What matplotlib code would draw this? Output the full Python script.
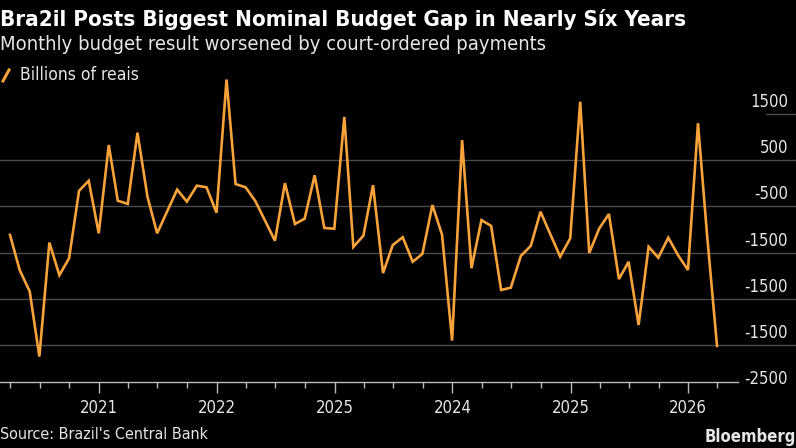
import numpy as np
import pandas as pd
import matplotlib
matplotlib.use('Agg')
import matplotlib.pyplot as plt
import matplotlib.dates as mdates
import matplotlib.transforms as mtransforms
from matplotlib.lines import Line2D
from matplotlib import font_manager

# monthly budget result, end of month, Mar 2020 .. Mar 2026
dates = pd.date_range('2020-03-31', periods=73, freq='ME')
values = [-1120, -1880, -2340, -3750, -1285, -1990, -1625, -165, 50, -1085,
          824, -380, -450, 1090, -295, -1085, -610, -140, -400, -55,
          -90, -640, 2240, -20, -90, -385, -820, -1245, 0, -884,
          -770, 170, -970, -985, 1430, -1380, -1137, -45, -1945, -1340,
          -1170, -1700, -1530, -473, -1120, -3405, 930, -1840, -800, -925,
          -2310, -2260, -1575, -1355, -618, -1115, -1590, -1195, 1760, -1510,
          -980, -667, -2075, -1700, -3067, -1375, -1612, -1180, -1555, -1878,
          1295, -1110, -3520]

y_ticks = [1500, 500, -500, -1500, -2500, -3500, -4500]
y_tick_labels = ['1500', '500', '-500', '-1500', '-1500', '-1500', '-2500']
year_ticks = pd.to_datetime(['2021-01-01', '2022-01-01', '2023-01-01',
                             '2024-01-01', '2025-01-01', '2026-01-01'])
year_labels = ['2021', '2022', '2025', '2024', '2025', '2026']

W, H = 796, 448
names = set(f.name for f in font_manager.fontManager.ttflist)
narrow = [n for n in ['Liberation Sans Narrow', 'DejaVu Sans Condensed'] if n in names]
plt.rcParams['font.family'] = narrow + ['DejaVu Sans']
plt.rcParams['font.stretch'] = 'condensed'     # picks the condensed DejaVu faces

line_color = '#f7a23a'
grid_color = '#4a4a4a'
text_color = '#e6e6e6'

def fx(px): return px / W
def fy(py): return 1 - py / H

fig = plt.figure(figsize=(W / 100, H / 100), dpi=100, facecolor='black')
ax = fig.add_axes([0, fy(382), fx(738), fy(70) - fy(382)])
ax.set_facecolor('black')

ax.plot(dates, values, color=line_color, lw=1.9, solid_joinstyle='miter', zorder=3)

ax.set_xlim(pd.Timestamp('2020-02-29'), pd.Timestamp('2026-06-04'))
ax.set_ylim(-4300, 2446)

# gridlines run on under the right-hand labels
ext = fx(796) / fx(738)
for v in y_ticks[1:-1]:
    ax.axhline(v, xmin=0, xmax=ext, color=grid_color, lw=1, clip_on=False, zorder=1)
ax.axhline(y_ticks[0], xmin=fx(766) / fx(738), xmax=ext, color=grid_color, lw=1,
           clip_on=False, zorder=1)

ax.set_yticks([])
trans = mtransforms.offset_copy(ax.get_yaxis_transform(), fig=fig, y=7, units='dots')
for v, lab in zip(y_ticks, y_tick_labels):
    ax.text(fx(788) / fx(738), v, lab, transform=trans, ha='right', va='baseline',
            color=text_color, fontsize=12)

ax.set_xticks(year_ticks)
ax.set_xticklabels(year_labels)
ax.xaxis.set_minor_locator(mdates.MonthLocator(bymonth=[1, 4, 7, 10]))
ax.tick_params(axis='x', which='major', length=8, width=1, color='#bbbbbb',
               labelcolor=text_color, labelsize=12, pad=4)
ax.tick_params(axis='x', which='minor', length=4, width=1, color='#bbbbbb')

for s in ['top', 'right', 'left']:
    ax.spines[s].set_visible(False)
ax.spines['bottom'].set_color('#bbbbbb')
ax.spines['bottom'].set_linewidth(1)

fig.text(0, fy(20), 'Bra2il Posts Biggest Nominal Budget Gap in Nearly Síx Years',
         color='white', fontsize=16, fontweight='bold', va='center')
fig.text(0, fy(45), 'Monthly budget result worsened by court-ordered payments',
         color=text_color, fontsize=14.5, va='center')
fig.add_artist(Line2D([fx(3), fx(9)], [fy(81), fy(70)], color=line_color, lw=2.2))
fig.text(fx(20), fy(75), 'Billions of reais', color=text_color, fontsize=12.5, va='center')
fig.text(0, fy(434), "Source: Brazil's Central Bank", color=text_color, fontsize=11.5,
         va='center')
fig.text(1, fy(437), 'Bloemberg', color=text_color, fontsize=12, fontweight='bold',
         va='center', ha='right')

fig.savefig('out.png', dpi=100, facecolor='black')
